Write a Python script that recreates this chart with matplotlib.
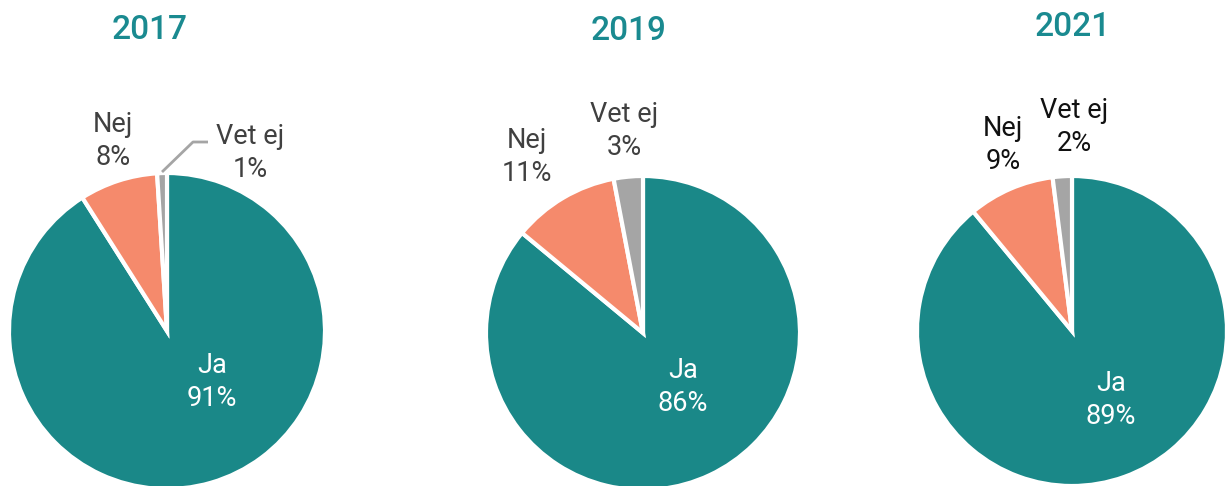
import matplotlib
matplotlib.use("Agg")
import matplotlib.pyplot as plt

years = ["2017", "2019", "2021"]
categories = ["Ja", "Nej", "Vet ej"]
values_2017 = [91, 8, 1]
values_2019 = [86, 11, 3]
values_2021 = [89, 9, 2]
all_values = [values_2017, values_2019, values_2021]

colors = ["#1A8888", "#F58A6C", "#A5A5A5"]
title_color = "#1A8A90"

W, H = 1227, 486
fig = plt.figure(figsize=(W / 100, H / 100), dpi=100)
ax = fig.add_axes([0, 0, 1, 1])
ax.set_xlim(0, W)
ax.set_ylim(0, H)
ax.set_aspect("equal")
ax.axis("off")

def Y(py):
    return H - py

centers = [(167, 331), (643, 333), (1072, 331)]
radii = [158, 157, 155]
title_pos = [(150, 30), (629, 31), (1073, 27)]
ja_pos = [(212, 382), (683, 387), (1111, 400)]
nej_pos = [(113, 141), (527, 157), (1003, 145)]
vet_pos = [(250, 153), (624, 131), (1074, 127)]
label_colors = ["#404040", "#404040", "#111111"]

font = "Roboto"
fs = 19.5
ls = 1.25

for i, vals in enumerate(all_values):
    cx, cy = centers[i]
    ax.pie(vals, colors=colors, startangle=90, counterclock=False,
           center=(cx, Y(cy)), radius=radii[i],
           wedgeprops=dict(edgecolor="white", linewidth=3), frame=True)
    ax.text(title_pos[i][0], Y(title_pos[i][1]), years[i], color=title_color,
            fontsize=24, fontweight="medium", ha="center", va="center", family=font)
    ax.text(ja_pos[i][0], Y(ja_pos[i][1]), f"{categories[0]}\n{vals[0]}%",
            color="white", fontsize=fs, ha="center", va="center",
            family=font, linespacing=ls)
    ax.text(nej_pos[i][0], Y(nej_pos[i][1]), f"{categories[1]}\n{vals[1]}%",
            color=label_colors[i], fontsize=fs, ha="center", va="center",
            family=font, linespacing=ls)
    ax.text(vet_pos[i][0], Y(vet_pos[i][1]), f"{categories[2]}\n{vals[2]}%",
            color=label_colors[i], fontsize=fs, ha="center", va="center",
            family=font, linespacing=ls)

ax.plot([162, 193, 208], [Y(172), Y(142), Y(142)], color="#A5A5A5", lw=2,
        solid_capstyle="butt")

ax.set_xlim(0, W)
ax.set_ylim(0, H)
ax.axis("off")
fig.savefig("out.png", dpi=100)
